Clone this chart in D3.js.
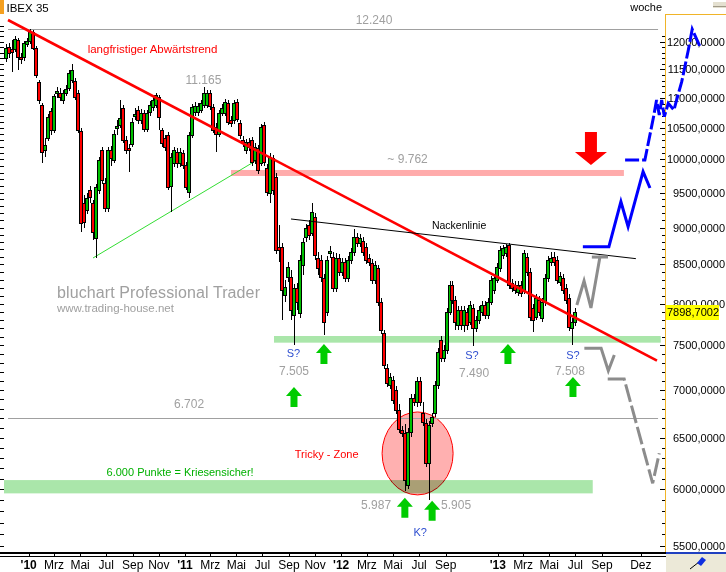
<!DOCTYPE html>
<html>
<head>
<meta charset="utf-8">
<script src="https://cdn.jsdelivr.net/npm/d3@7"></script>
<style>
  body { margin: 0; background: #fff; }
  svg { display: block; }
  text { font-family: "Liberation Sans", Arial, sans-serif; }
</style>
</head>
<body>
<div id="chart"></div>
<script>
// IBEX 35 weekly candles, week 0 = Mon 2009-11-09
const weekStart = new Date(2009, 10, 9);

const open = [
  11701,11902,11865,11865,12032,11719,11719,11958,12014,12181,
  11884,11274,10880,10148,10338,10779,10467,11085,11085,10965,
  11085,11170,11309,11292,11085,10451,9348,9248,9539,9348,
  8855,9539,10148,9643,9277,10148,9992,10499,10548,10829,
  10306,10179,10242,10696,10796,10630,10746,10483,10763,10846,
  10880,11016,10467,10338,10386,9598,9946,10117,9946,10101,
  9915,9510,10386,10763,10763,10796,10880,10880,11085,10846,
  10515,10402,10746,10746,10914,10630,10630,10931,10581,10306,
  10148,10274,10306,9992,10179,9946,10548,9870,9495,10023,
  9733,8732,8732,8107,8337,8337,7860,8195,7885,8493,
  8869,9036,8924,9148,8585,8559,8324,7897,8652,8598,
  8195,8585,8401,8533,8324,8559,8665,8869,8787,8814,
  8732,8585,8519,8298,8453,8020,7645,7241,7053,7108,
  6999,6785,6578,6548,6040,6558,6913,6870,7097,6753,
  6650,6251,6650,6753,7053,7562,7354,7446,7897,8233,
  8045,7740,7921,7740,7897,7776,7946,7704,7800,7897,
  7983,7860,8020,8170,8298,8453,8625,8652,8760,8259,
  8233,8145,8233,8170,8598,8401,7946,7836,8045,7824,
  8020,8324,8533,8598,8559,8272,8324,8195,8070,7704,
  7776
];
const high = [
  11958,11976,12032,12107,12070,11792,12014,12070,12247,12219,
  11921,11309,10914,10338,10729,10829,11067,11187,11170,11136,
  11222,11486,11593,11344,11136,10499,9465,9495,9598,9392,
  9628,10038,10195,9718,10195,10211,10467,10630,10965,10880,
  10370,10242,10663,10829,10863,10813,10796,10796,10948,11033,
  11085,11050,10499,10386,10434,10101,10195,10179,10179,10148,
  9961,10434,10897,10931,10914,10965,11187,11136,11136,10897,
  10581,10796,10897,10982,10965,10696,10965,10982,10630,10370,
  10322,10338,10354,10258,10227,10565,10597,9930,10101,10070,
  9794,9036,8787,8298,8533,8427,8247,8259,8625,8855,
  9050,9106,9348,9205,8665,8625,8375,8612,8746,8665,
  8652,8638,8585,8585,8612,8719,8980,8924,8910,8869,
  8787,8638,8572,8546,8493,8070,7680,7286,7185,7152,
  7042,6850,6619,6640,6598,6956,6956,7141,7141,6870,
  6691,6670,6753,7097,7469,7609,7504,7946,8285,8285,
  8095,7970,7970,7970,7946,8033,7995,7848,7970,8033,
  8033,8070,8349,8375,8519,8746,8760,8773,8787,8311,
  8285,8285,8285,8692,8652,8453,7995,8120,8095,8070,
  8375,8612,8665,8665,8612,8401,8375,8247,8120,7824,
  7946
];
const low = [
  11629,11701,11450,11810,11486,11593,11647,11902,11958,11847,
  11344,10897,9946,10038,10290,10386,10418,11000,10948,10897,
  11033,11119,11257,10965,10418,8938,8994,9191,9348,8828,
  8585,9480,9628,9220,9220,9900,9946,10386,10499,10258,
  10086,9809,10195,10630,10565,10565,10434,10434,10696,10779,
  10829,10467,10195,10132,9539,9220,9885,9870,9885,9854,
  9539,9421,10338,10696,10696,10746,10829,10829,10796,10418,
  10117,10354,10696,10696,10548,10515,10565,10597,10322,10195,
  10086,10132,9900,9930,9779,9900,9900,9451,9348,9465,
  8638,8533,7800,8020,8272,7800,7505,7921,7824,8362,
  8801,8828,8882,8559,8362,8272,7621,7848,8585,8145,
  8145,8349,8349,8272,8272,8506,8612,8732,8732,8612,
  8506,8480,8247,8247,7970,7633,7230,7032,7010,6848,
  6743,6548,6507,5987,6005,6507,6827,6817,6827,6619,
  6212,5905,6609,6712,7010,7309,7309,7400,7860,7995,
  7680,7680,7680,7656,7680,7740,7490,7656,7752,7848,
  7812,7812,7983,8120,8259,8401,8572,8598,8183,8145,
  8120,8095,8082,8120,8349,7788,7656,7800,7848,7776,
  7970,8272,8480,8480,8247,8221,8120,7995,7668,7508,
  7728
];
const close = [
  11884,11792,11810,12051,11719,11683,11976,12014,12181,11884,
  11397,10965,10117,10227,10679,10467,11033,11119,11016,11085,
  11153,11433,11486,11016,10467,9064,9078,9421,9436,8938,
  9583,9992,9688,9277,10148,10023,10402,10532,10663,10306,
  10148,10148,10597,10729,10630,10746,10483,10746,10880,10965,
  11050,10679,10258,10195,9583,10038,10148,9946,10117,9915,
  9583,10386,10846,10863,10863,10914,11085,11085,10863,10467,
  10402,10746,10829,10931,10597,10581,10914,10647,10386,10258,
  10274,10195,9961,10195,9839,10515,9961,9510,10038,9539,
  8692,8692,8170,8208,8466,7921,8195,8020,8559,8801,
  8994,8896,9220,8625,8453,8337,7776,8559,8678,8195,
  8585,8401,8533,8324,8559,8665,8869,8787,8855,8665,
  8559,8533,8298,8493,8020,7680,7275,7075,7141,6891,
  6785,6588,6548,6088,6558,6913,6870,7097,6870,6660,
  6251,6629,6712,7053,7423,7354,7446,7897,8233,8045,
  7776,7921,7740,7921,7740,7983,7704,7800,7921,7983,
  7860,8020,8298,8324,8466,8692,8719,8732,8233,8195,
  8170,8233,8132,8652,8401,7836,7800,8070,7897,8020,
  8324,8559,8585,8533,8298,8349,8170,8045,7716,7776,
  7898.7002
];

// axis ticks
const priceLabels = [5500,6000,6500,7000,7500,8000,8500,9000,9500,10000,10500,11000,11500,12000];
const xTickMonths = ["2010-01","2010-03","2010-05","2010-07","2010-09","2010-11",
  "2011-01","2011-03","2011-05","2011-07","2011-09","2011-11",
  "2012-01","2012-03","2012-05","2012-07","2012-09",
  "2013-01","2013-03","2013-05","2013-07","2013-09","2013-12"];
const xTickLabels = ["'10","Mrz","Mai","Jul","Sep","Nov","'11","Mrz","Mai","Jul","Sep","Nov",
  "'12","Mrz","Mai","Jul","Sep","'13","Mrz","Mai","Jul","Sep","Dez"];

// levels / zones  (week, price)
const levelLines = [12240, 6702];
const levelSpan = [0.67, 217.6];
const bands = [
  { w: [75.08, 206.2], p: [9748, 9839], fill: "#ffabab" },
  { w: [89.43, 218.5], p: [7531, 7609], fill: "#aae6aa" },
  { w: [-0.67, 195.8], p: [5964, 6088], fill: "#aae6aa", blend: true }
];
const trendLine = [[0.67, 12410], [217.24, 7324]];
const neckLine = [[95.1, 9120], [210.2, 8577]];
const supportLine = [[29.03, 8586], [85.43, 10038]];
const trickyZone = { w: [125.5, 149.2], p: [5950, 6765] };

// projections
const blueLow = [[192.5,8737],[201.2,8737],[205.2,9367],[207.6,9012],[212.6,9813],[214.9,9568]];
const blueHigh = [[206.6,9992],[213.2,9992],[216.0,10659],[217.1,10965],[218.0,10713],[218.8,10965],
  [219.7,10685],[221.0,10908],[222.9,10796],[223.8,10965],[225.5,11280],[227.7,11847],[229.0,12233],[231.7,11896]];
const grayUp = [[190.5,7983],[192.9,8286],[195.2,7947],[198.2,8598],[200.9,8598]];
const grayTop = [[195.5,8598],[198.2,8598]];
const grayLowA = [[193.0,7465],[198.6,7465],[201.0,7211],[203.0,7388]];
const grayLowB = [[200.8,7118],[206.3,7118],[215.8,6058],[218.0,6346]];

const upArrows = [[96.1,7032],[106.1,7516],[167.5,7516],[189.2,7141],[133.1,5924],[142.2,5897]];
const downArrow = [195.2, 9915];

const gray = "#a0a0a0", blueTxt = "#2f4fd0";
const notes = [
  { t: "12.240", w: 122.8, p: 12410, c: gray, s: 12 },
  { t: "11.165", w: 65.9, p: 11309, c: gray, s: 12 },
  { t: "~ 9.762", w: 134.0, p: 10007, c: gray, s: 12 },
  { t: "langfristiger Abwärtstrend", w: 48.9, p: 11866, c: "#ff0000", s: 11.5 },
  { t: "Nackenlinie", w: 151.2, p: 9036, c: "#000", s: 10.5 },
  { t: "S?", w: 95.9, p: 7411, c: blueTxt, s: 11 },
  { t: "7.505", w: 96.1, p: 7207, c: gray, s: 12 },
  { t: "S?", w: 155.5, p: 7388, c: blueTxt, s: 11 },
  { t: "7.490", w: 156.2, p: 7185, c: gray, s: 12 },
  { t: "S?", w: 189.2, p: 7388, c: blueTxt, s: 11 },
  { t: "7.508", w: 188.2, p: 7207, c: gray, s: 12 },
  { t: "6.702", w: 61.1, p: 6848, c: gray, s: 12 },
  { t: "Tricky - Zone", w: 107.0, p: 6339, c: "#ff0000", s: 11 },
  { t: "6.000 Punkte = Kriesensicher!", w: 58.1, p: 6164, c: "#00b000", s: 11 },
  { t: "5.987", w: 123.5, p: 5857, c: gray, s: 12 },
  { t: "5.905", w: 150.2, p: 5857, c: gray, s: 12 },
  { t: "K?", w: 138.2, p: 5617, c: blueTxt, s: 11 }
];

const W = 726, H = 572, plotR = 665, axisY = 553;
const svg = d3.select("#chart").append("svg").attr("width", W).attr("height", H);

const x = d3.scaleTime().domain([new Date(2010, 0, 1), new Date(2013, 8, 1)]).range([28.7, 601.9]);
const y = d3.scaleLog().domain([5500, 12000]).range([545.7, 41.7]);
const weekDate = w => new Date(weekStart.getTime() + w * 7 * 864e5);
const wx = w => x(weekDate(w));
const line = d3.line().x(d => wx(d[0])).y(d => y(d[1]));

// Tricky zone ellipse
const ex0 = wx(trickyZone.w[0]), ex1 = wx(trickyZone.w[1]);
const ey0 = y(trickyZone.p[1]), ey1 = y(trickyZone.p[0]);
svg.append("ellipse")
  .attr("cx", (ex0 + ex1) / 2).attr("cy", (ey0 + ey1) / 2)
  .attr("rx", (ex1 - ex0) / 2).attr("ry", (ey1 - ey0) / 2)
  .attr("fill", "#ffb0b0").attr("stroke", "#ff0000").attr("stroke-width", 1);

// bands
svg.append("g").selectAll("rect").data(bands).join("rect")
  .attr("x", d => wx(d.w[0])).attr("width", d => wx(d.w[1]) - wx(d.w[0]))
  .attr("y", d => y(d.p[1])).attr("height", d => y(d.p[0]) - y(d.p[1]))
  .attr("fill", d => d.fill)
  .style("mix-blend-mode", d => d.blend ? "multiply" : null);

// level lines
svg.append("g").selectAll("line").data(levelLines).join("line")
  .attr("x1", wx(levelSpan[0])).attr("x2", wx(levelSpan[1]))
  .attr("y1", d => Math.round(y(d)) + 0.5).attr("y2", d => Math.round(y(d)) + 0.5)
  .attr("stroke", "#a0a0a0").attr("stroke-width", 1);

// green support line
svg.append("path").attr("d", line(supportLine)).attr("fill", "none")
  .attr("stroke", "#33dd33").attr("stroke-width", 1);

// candles
const candles = close.map((c, i) => ({ i, o: open[i], h: high[i], l: low[i], c }));
const cg = svg.append("g").attr("shape-rendering", "crispEdges");
cg.selectAll("line").data(candles).join("line")
  .attr("x1", d => Math.round(wx(d.i)) + 0.5).attr("x2", d => Math.round(wx(d.i)) + 0.5)
  .attr("y1", d => Math.round(y(d.h))).attr("y2", d => Math.round(y(d.l)))
  .attr("stroke", "#000");
cg.selectAll("rect").data(candles).join("rect")
  .attr("x", d => Math.round(wx(d.i)) - 1.5)
  .attr("width", 3)
  .attr("y", d => Math.round(y(Math.max(d.o, d.c))) + 0.5)
  .attr("height", d => Math.max(1, Math.round(y(Math.min(d.o, d.c))) - Math.round(y(Math.max(d.o, d.c)))))
  .attr("fill", d => d.c >= d.o ? "#00c000" : "#ff0000")
  .attr("stroke", "#000").attr("stroke-width", 1);

// trend lines
svg.append("path").attr("d", line(trendLine)).attr("fill", "none")
  .attr("stroke", "#ff0000").attr("stroke-width", 2.6);
svg.append("path").attr("d", line(neckLine)).attr("fill", "none")
  .attr("stroke", "#000").attr("stroke-width", 1);

// arrows
svg.append("g").selectAll("path").data(upArrows).join("path")
  .attr("transform", d => `translate(${wx(d[0])},${y(d[1])})`)
  .attr("d", "M0,0L8,9L3.5,9L3.5,20L-3.5,20L-3.5,9L-8,9Z")
  .attr("fill", "#00cc00");
svg.append("path")
  .attr("transform", `translate(${wx(downArrow[0])},${y(downArrow[1])})`)
  .attr("d", "M0,0L16,-13L6,-13L6,-33L-6,-33L-6,-13L-16,-13Z")
  .attr("fill", "#ff0000");

// notes
svg.append("g").selectAll("text").data(notes).join("text")
  .attr("x", d => wx(d.w)).attr("y", d => y(d.p))
  .attr("text-anchor", "middle").attr("dominant-baseline", "central")
  .attr("font-size", d => d.s).attr("fill", d => d.c)
  .text(d => d.t);

// watermark
svg.append("text").attr("x", wx(17.0)).attr("y", y(8145))
  .attr("dominant-baseline", "central").attr("font-size", 16)
  .attr("fill", "#a0a0a0").attr("textLength", 203).attr("lengthAdjust", "spacing")
  .text("bluchart Professional Trader");
svg.append("text").attr("x", wx(17.0)).attr("y", y(7947))
  .attr("dominant-baseline", "central").attr("font-size", 11.5)
  .attr("fill", "#a0a0a0")
  .text("www.trading-house.net");

// left ticks
const minorTicks = d3.range(5500, 12301, 100);
svg.append("g").selectAll("line").data(minorTicks).join("line")
  .attr("x1", 0).attr("x2", 4)
  .attr("y1", d => Math.round(y(d)) + 0.5).attr("y2", d => Math.round(y(d)) + 0.5)
  .attr("stroke", "#000");

// right axis
const ra = svg.append("g");
ra.append("line").attr("x1", plotR + 0.5).attr("x2", plotR + 0.5).attr("y1", 14).attr("y2", axisY)
  .attr("stroke", "#f0b428").attr("stroke-width", 1);
ra.append("line").attr("x1", plotR).attr("x2", W).attr("y1", 14.5).attr("y2", 14.5)
  .attr("stroke", "#f0b428").attr("stroke-width", 1);
ra.selectAll("line.t").data(minorTicks.filter(v => v <= 12100)).join("line").attr("class", "t")
  .attr("x1", d => d % 500 === 0 ? plotR - 5 : plotR - 3).attr("x2", plotR)
  .attr("y1", d => Math.round(y(d)) + 0.5).attr("y2", d => Math.round(y(d)) + 0.5)
  .attr("stroke", "#000");
ra.selectAll("text").data(priceLabels).join("text")
  .attr("x", 725).attr("y", d => y(d))
  .attr("text-anchor", "end").attr("dominant-baseline", "central")
  .attr("font-size", 11).attr("fill", "#000")
  .text(d => d.toFixed(4).replace(".", ","));

// last price box
const lastY = y(close[close.length - 1]);
ra.append("rect").attr("x", 666).attr("y", Math.round(lastY) - 7).attr("width", 53).attr("height", 15)
  .attr("fill", "#ffff00");
ra.append("text").attr("x", 667).attr("y", lastY + 0.5).attr("dominant-baseline", "central")
  .attr("font-size", 11).attr("fill", "#000")
  .text(close[close.length - 1].toFixed(4).replace(".", ","));

// bottom axis
const parseM = d3.timeParse("%Y-%m");
const xt = xTickMonths.map((m, k) => ({ d: parseM(m), t: xTickLabels[k] }));
const xa = svg.append("g");
xa.append("rect").attr("x", 0).attr("y", axisY - 1).attr("width", plotR + 1).attr("height", 2).attr("fill", "#000");
xa.append("line").attr("x1", 0).attr("x2", plotR + 1).attr("y1", axisY + 3.5).attr("y2", axisY + 3.5).attr("stroke", "#000");
xa.selectAll("line.t").data(xt).join("line").attr("class", "t")
  .attr("x1", d => Math.round(x(d.d)) + 0.5).attr("x2", d => Math.round(x(d.d)) + 0.5)
  .attr("y1", axisY).attr("y2", axisY + 4).attr("stroke", "#000");
xa.selectAll("text").data(xt).join("text")
  .attr("x", d => x(d.d)).attr("y", 565)
  .attr("text-anchor", "middle").attr("dominant-baseline", "central")
  .attr("font-size", 12).attr("font-weight", d => d.t.startsWith("'") ? "bold" : "normal")
  .attr("fill", "#000").text(d => d.t);

// bottom right button
svg.append("rect").attr("x", 666).attr("y", axisY).attr("width", 60).attr("height", H - axisY).attr("fill", "#ece9d8");
svg.append("rect").attr("x", 666).attr("y", axisY - 1).attr("width", 60).attr("height", 2).attr("fill", "#2040c0");
svg.append("line").attr("x1", 690).attr("y1", 569).attr("x2", 699).attr("y2", 562).attr("stroke", "#000");
svg.append("path").attr("d", "M697,563L702,557L706,560L701,566Z").attr("fill", "#1030e0");

// header
svg.append("rect").attr("x", 0).attr("y", 0).attr("width", 4).attr("height", 14).attr("fill", "#f5a020");
svg.append("text").attr("x", 6.5).attr("y", 7.5).attr("dominant-baseline", "central")
  .attr("font-size", 11.5).attr("fill", "#000").text("IBEX 35");
svg.append("text").attr("x", 662).attr("y", 7).attr("text-anchor", "end").attr("dominant-baseline", "central")
  .attr("font-size", 11).attr("fill", "#000").text("woche");
svg.append("rect").attr("x", 713).attr("y", 2).attr("width", 13).attr("height", 6).attr("fill", "#e4e0d0");
svg.append("line").attr("x1", 713).attr("x2", 726).attr("y1", 6.5).attr("y2", 6.5).attr("stroke", "#a09a88");

// projections
const proj = svg.append("g").attr("fill", "none").attr("stroke-linejoin", "miter");
proj.append("path").attr("d", line(grayUp)).attr("stroke", "#8c8c8c").attr("stroke-width", 3);
proj.append("path").attr("d", line(grayTop)).attr("stroke", "#8c8c8c").attr("stroke-width", 3);
proj.append("path").attr("d", line(grayLowA)).attr("stroke", "#8c8c8c").attr("stroke-width", 3);
proj.append("path").attr("d", line(grayLowB)).attr("stroke", "#8c8c8c").attr("stroke-width", 3)
  .attr("stroke-dasharray", "18 4");
proj.append("path").attr("d", line(blueLow)).attr("stroke", "#0000ff").attr("stroke-width", 3);
proj.append("path").attr("d", line(blueHigh)).attr("stroke", "#0000ff").attr("stroke-width", 3)
  .attr("stroke-dasharray", "14 3");
</script>
</body>
</html>
